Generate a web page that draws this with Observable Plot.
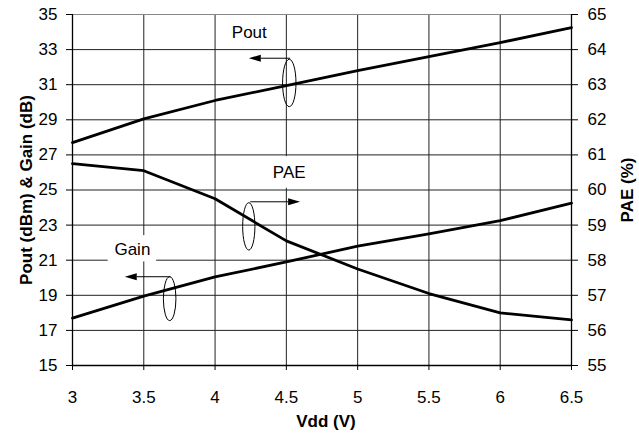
<!DOCTYPE html>
<html>
<head>
<meta charset="utf-8">
<script src="https://cdn.jsdelivr.net/npm/d3@7"></script>
<script src="https://cdn.jsdelivr.net/npm/@observablehq/plot@0.6"></script>
<style>
  html, body { margin: 0; padding: 0; background: #fff; }
  #chart { width: 639px; height: 435px; }
</style>
</head>
<body>
<div id="chart"></div>
<script>
// ---- data ----
const vdd = [3, 3.5, 4, 4.5, 5, 5.5, 6, 6.5];
const pout = [27.7, 29.05, 30.1, 30.95, 31.8, 32.6, 33.4, 34.25];
const gain = [17.7, 18.95, 20.05, 20.9, 21.8, 22.5, 23.25, 24.25];
const pae = [60.75, 60.55, 59.75, 58.55, 57.75, 57.05, 56.5, 56.3];

const xTicks = [3, 3.5, 4, 4.5, 5, 5.5, 6, 6.5];
const leftTicks = [15, 17, 19, 21, 23, 25, 27, 29, 31, 33, 35];
const rightTicks = [55, 56, 57, 58, 59, 60, 61, 62, 63, 64, 65];

const xTitle = "Vdd (V)";
const yLeftTitle = "Pout (dBm) & Gain (dB)";
const yRightTitle = "PAE (%)";

// annotation labels (x in V, y in left-axis units)
const annLabels = ["Pout", "PAE", "Gain"];
const annLabelX = [4.24, 4.52, 3.42];
const annLabelY = [33.99, 26.0, 21.62];
// white boxes behind labels
const boxX1 = [4.33, 3.25];
const boxX2 = [4.70, 3.59];
const boxY1 = [25.1, 20.9];
const boxY2 = [26.9, 22.4];
// arrows (from -> to, horizontal)
const arrowX1 = [4.53, 4.25, 3.69];
const arrowX2 = [4.24, 4.60, 3.37];
const arrowY = [32.48, 24.3, 20.03];
// ellipses (center, half-width in V, half-height in left units)
const ellX = [4.524, 4.24, 3.685];
const ellY = [31.07, 22.9, 18.78];
const ellRX = [0.047, 0.043, 0.044];
const ellRY = [1.35, 1.35, 1.25];

// ---- derived tables ----
const paeToLeft = v => 15 + (v - 55) * 2;
const leftToPae = v => 55 + (v - 15) / 2;

const lines = [
  ...vdd.map((x, i) => ({series: "Pout", x, y: pout[i]})),
  ...vdd.map((x, i) => ({series: "Gain", x, y: gain[i]})),
  ...vdd.map((x, i) => ({series: "PAE", x, y: paeToLeft(pae[i])}))
];
const labels = annLabels.map((t, i) => ({t, x: annLabelX[i], y: annLabelY[i]}));
const boxes = boxX1.map((x1, i) => ({x1, x2: boxX2[i], y1: boxY1[i], y2: boxY2[i]}));
const arrows = arrowX1.map((x1, i) => ({x1, x2: arrowX2[i], y: arrowY[i]}));
const ellipses = ellX.map((x, i) => ({x, y: ellY[i], rx: ellRX[i], ry: ellRY[i]}));

function annotations(index, scales) {
  const {x, y} = scales;
  const g = d3.create("svg:g");
  for (const e of ellipses) {
    g.append("ellipse")
      .attr("cx", x(e.x)).attr("cy", y(e.y))
      .attr("rx", Math.abs(x(e.x + e.rx) - x(e.x)))
      .attr("ry", Math.abs(y(e.y + e.ry) - y(e.y)))
      .attr("fill", "none").attr("stroke", "#000").attr("stroke-width", 1);
  }
  for (const a of arrows) {
    const px1 = x(a.x1), px2 = x(a.x2), py = y(a.y);
    const dir = Math.sign(px2 - px1);
    const L = 12, W = 3.5;
    g.append("line")
      .attr("x1", px1).attr("x2", px2 - dir * L).attr("y1", py).attr("y2", py)
      .attr("stroke", "#000").attr("stroke-width", 1);
    g.append("path")
      .attr("d", `M${px2},${py}L${px2 - dir * L},${py - W}L${px2 - dir * L},${py + W}Z`)
      .attr("fill", "#000");
  }
  return g.node();
}

const chart = Plot.plot({
  width: 639,
  height: 435,
  marginLeft: 72,
  marginRight: 68,
  marginTop: 14,
  marginBottom: 70,
  style: {fontFamily: "'Liberation Sans', Arial, sans-serif", fontSize: "17px", color: "#000", background: "#fff"},
  x: {domain: [3, 6.5]},
  y: {domain: [15, 35]},
  marks: [
    Plot.gridX(xTicks, {stroke: "#222", strokeOpacity: 1}),
    Plot.gridY(leftTicks.filter(d => d !== 35), {stroke: "#222", strokeOpacity: 1}),
    Plot.gridY([35], {stroke: "#888", strokeOpacity: 1}),
    Plot.rect(boxes, {x1: "x1", x2: "x2", y1: "y1", y2: "y2", fill: "#fff"}),
    Plot.ruleX([3, 6.5], {stroke: "#000", strokeWidth: 1.3}),
    Plot.ruleY([15], {stroke: "#000", strokeWidth: 1.3}),
    Plot.axisX(xTicks, {tickSize: 5, tickPadding: 20, label: null, fontSize: 17, tickFormat: d => String(d)}),
    Plot.axisY(leftTicks, {anchor: "left", tickSize: 6, tickPadding: 9, label: null, fontSize: 17}),
    Plot.axisY(rightTicks.map(paeToLeft), {anchor: "right", tickSize: 6, tickPadding: 10, label: null, fontSize: 17, tickFormat: d => String(leftToPae(d))}),
    Plot.line(lines, {x: "x", y: "y", z: "series", stroke: "#000", strokeWidth: 2.8, strokeLinejoin: "round"}),
    Plot.text(labels, {x: "x", y: "y", text: "t", fontSize: 17, fill: "#000"}),
    annotations,
    Plot.text([xTitle], {frameAnchor: "bottom", lineAnchor: "middle", dx: 4, dy: 56, fontWeight: "bold", fontSize: 17}),
    Plot.text([yLeftTitle], {frameAnchor: "left", textAnchor: "middle", lineAnchor: "middle", dx: -46, rotate: -90, fontWeight: "bold", fontSize: 17}),
    Plot.text([yRightTitle], {frameAnchor: "right", textAnchor: "middle", lineAnchor: "middle", dx: 56, rotate: -90, fontWeight: "bold", fontSize: 17})
  ]
});
document.getElementById("chart").appendChild(chart);
</script>
</body>
</html>
